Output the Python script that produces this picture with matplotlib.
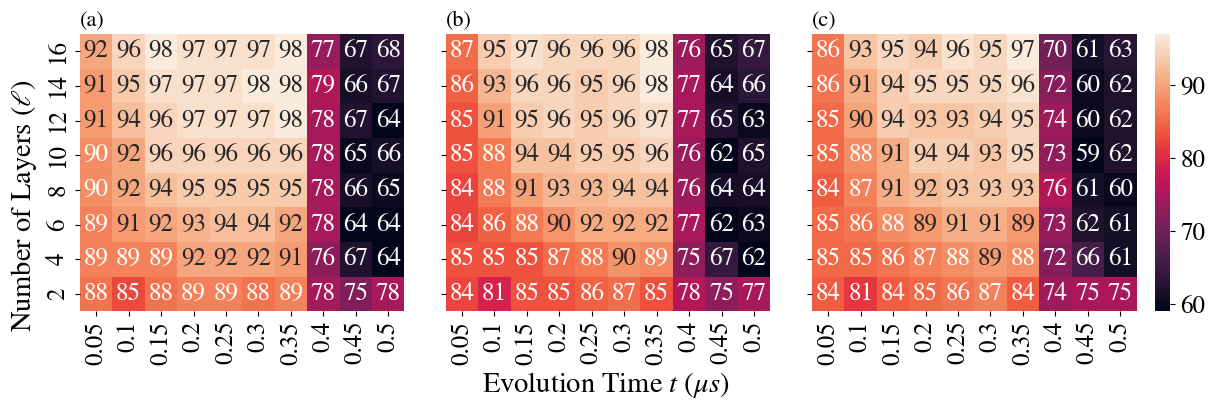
import matplotlib
matplotlib.use("Agg")
import matplotlib.pyplot as plt
import numpy as np
import seaborn as sns

plt.rcParams["font.family"] = ["STIXGeneral", "DejaVu Serif"]
plt.rcParams["mathtext.fontset"] = "stix"

times = ["0.05", "0.1", "0.15", "0.2", "0.25", "0.3", "0.35", "0.4", "0.45", "0.5"]
layers = ["16", "14", "12", "10", "8", "6", "4", "2"]

# rows top (16 layers) to bottom (2 layers)
acc_a = [
    [92, 96, 98, 97, 97, 97, 98, 77, 67, 68],
    [91, 95, 97, 97, 97, 98, 98, 79, 66, 67],
    [91, 94, 96, 97, 97, 97, 98, 78, 67, 64],
    [90, 92, 96, 96, 96, 96, 96, 78, 65, 66],
    [90, 92, 94, 95, 95, 95, 95, 78, 66, 65],
    [89, 91, 92, 93, 94, 94, 92, 78, 64, 64],
    [89, 89, 89, 92, 92, 92, 91, 76, 67, 64],
    [88, 85, 88, 89, 89, 88, 89, 78, 75, 78],
]
acc_b = [
    [87, 95, 97, 96, 96, 96, 98, 76, 65, 67],
    [86, 93, 96, 96, 95, 96, 98, 77, 64, 66],
    [85, 91, 95, 96, 95, 96, 97, 77, 65, 63],
    [85, 88, 94, 94, 95, 95, 96, 76, 62, 65],
    [84, 88, 91, 93, 93, 94, 94, 76, 64, 64],
    [84, 86, 88, 90, 92, 92, 92, 77, 62, 63],
    [85, 85, 85, 87, 88, 90, 89, 75, 67, 62],
    [84, 81, 85, 85, 86, 87, 85, 78, 75, 77],
]
acc_c = [
    [86, 93, 95, 94, 96, 95, 97, 70, 61, 63],
    [86, 91, 94, 95, 95, 95, 96, 72, 60, 62],
    [85, 90, 94, 93, 93, 94, 95, 74, 60, 62],
    [85, 88, 91, 94, 94, 93, 95, 73, 59, 62],
    [84, 87, 91, 92, 93, 93, 93, 76, 61, 60],
    [85, 86, 88, 89, 91, 91, 89, 73, 62, 61],
    [85, 85, 86, 87, 88, 89, 88, 72, 66, 61],
    [84, 81, 84, 85, 86, 87, 84, 74, 75, 75],
]

panels = [("(a)", acc_a), ("(b)", acc_b), ("(c)", acc_c)]

fig = plt.figure(figsize=(12.11, 4.11), dpi=100)
lefts = [0.066, 0.368, 0.6705]
cax = fig.add_axes([0.954, 0.243, 0.0125, 0.674])

for i, (tag, data) in enumerate(panels):
    ax = fig.add_axes([lefts[i], 0.243, 0.268, 0.674])
    last = i == 2
    sns.heatmap(np.array(data), ax=ax, annot=True, fmt="d",
                annot_kws={"fontsize": 18},
                xticklabels=times, yticklabels=layers,
                cbar=last, cbar_ax=cax if last else None)
    ax.tick_params(axis="both", labelsize=18)
    ax.set_xticklabels(times, rotation=90)
    if i == 0:
        ax.set_yticklabels(layers, rotation=90, va="center")
    else:
        ax.set_yticklabels([])
    ax.text(0.0, 1.01, tag, transform=ax.transAxes, fontsize=16,
            ha="left", va="bottom")

cax.tick_params(labelsize=18)

# shared axis titles, centred on the figure
fig.text(0.02, 0.5, r"Number of Layers ($\ell$)", fontsize=20.5,
         rotation=90, ha="center", va="center")
fig.text(0.5, 0.063, r"Evolution Time $t$ ($\mu s$)", fontsize=20.5,
         ha="center", va="center")

fig.savefig("out.png", dpi=100)
